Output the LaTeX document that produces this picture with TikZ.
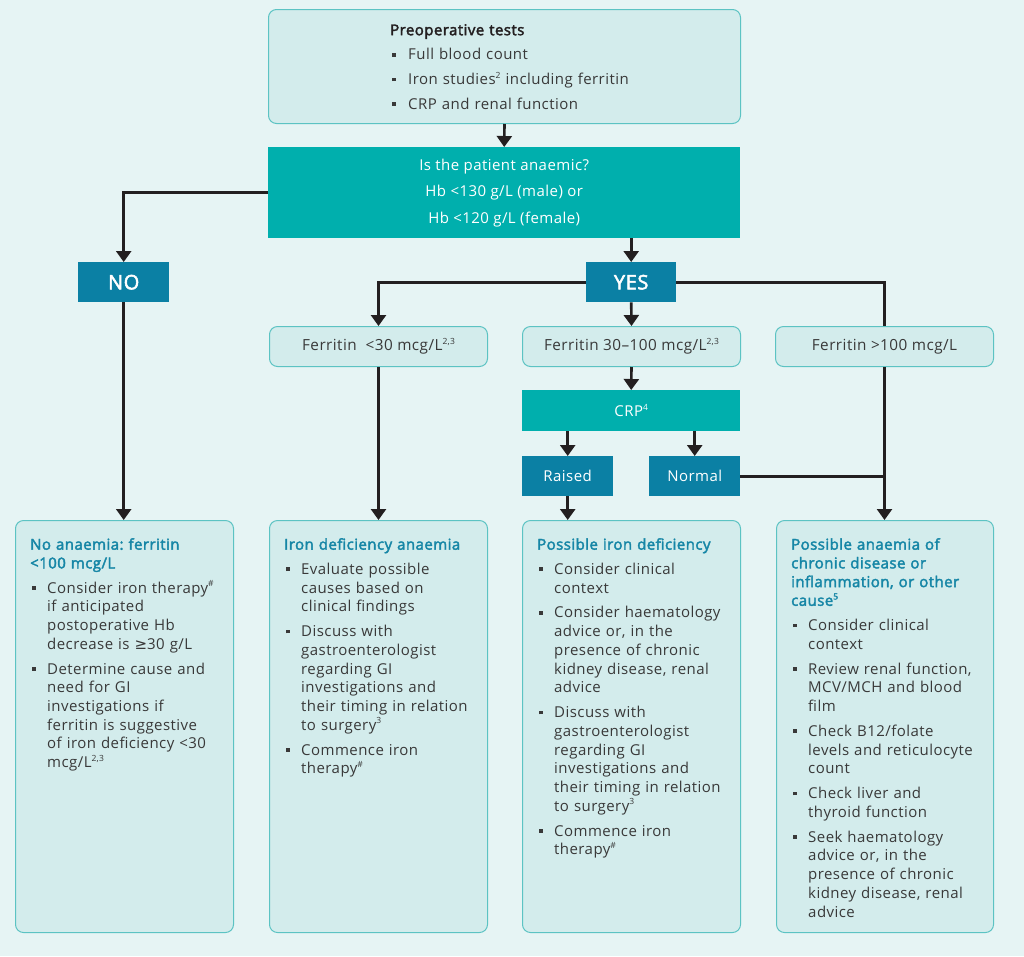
\documentclass[tikz,border=0pt]{standalone}
\usepackage{fontspec}
\setmainfont{Open Sans}[LetterSpace=3, AutoFakeBold=2.5]
\newfontfamily\symf{DejaVu Sans}
\usetikzlibrary{arrows.meta}
\definecolor{bgc}{HTML}{E6F4F4}
\definecolor{lightfill}{HTML}{D3ECEC}
\definecolor{lightedge}{HTML}{5CC3C3}
\definecolor{tealc}{HTML}{00AFAD}
\definecolor{bluec}{HTML}{0B80A4}
\definecolor{headc}{HTML}{1686A6}
\definecolor{txtc}{HTML}{393939}
\definecolor{arrc}{HTML}{231F20}
\frenchspacing
\newcommand\sps[1]{\raisebox{0.42em}{\fontsize{8.5}{8.5}\selectfont #1}}
\newcommand\bul{\hspace*{2pt}\rule[0.22em]{3.6pt}{3.6pt}}
\newcommand\hd[1]{{\bfseries\color{headc}#1\par}\vspace{6pt}}
\newcommand\itm[1]{{\let\\\newline\hangindent=17pt\hangafter=1\noindent\makebox[17pt][l]{\bul}#1\par}\vspace{6.2pt}}
\newcommand\titm[1]{{\hangindent=18pt\hangafter=1\noindent\makebox[18pt][l]{\bul}#1\par}}
\tikzset{
  lbox/.style={draw=lightedge, fill=lightfill, rounded corners=8pt, line width=1pt, inner sep=0pt, anchor=north west},
  tbox/.style={fill=tealc, inner sep=0pt, anchor=north west, text=white, font=\fontsize{15}{25}\selectfont},
  bbox/.style={fill=bluec, inner sep=0pt, anchor=north west, text=white, font=\fontsize{15}{18}\selectfont},
  yn/.style={bbox, font=\fontsize{20}{22}\selectfont\bfseries},
  ftxt/.style={text=txtc, font=\fontsize{15.3}{18}\selectfont},
  btxt/.style={anchor=north west, inner sep=0pt, text width=215pt, align=left, text=txtc, font=\fontsize{15}{18.7}\selectfont},
  conn/.style={draw=arrc, line width=2.6pt},
  arr/.style={conn, -{Triangle[width=15pt,length=11pt]}},
}
\begin{document}
\begin{tikzpicture}[x=1pt,y=-1pt]
\fill[bgc] (0,0) rectangle (1024,956);
\useasboundingbox (0,0) rectangle (1024,956);
% boxes
\node[lbox, minimum width=472pt, minimum height=114pt] (top) at (268,9) {};
\node[tbox, minimum width=472pt, minimum height=91pt, align=center] (anaemic) at (268,147) {Is the patient anaemic?\\[1.5pt]Hb <130 g/L (male) or\\[1.5pt]Hb <120 g/L (female)};
\node[yn, minimum width=91pt, minimum height=40pt] (no) at (78,262) {NO};
\node[yn, minimum width=90pt, minimum height=40pt] (yes) at (586,262) {YES};
\node[lbox, ftxt, minimum width=218pt, minimum height=40pt] (f1) at (269,326) {Ferritin\ \ <30 mcg/L\sps{2,3}};
\node[lbox, ftxt, minimum width=218pt, minimum height=40pt] (f2) at (522,326) {Ferritin 30--100 mcg/L\sps{2,3}};
\node[lbox, ftxt, minimum width=218pt, minimum height=40pt] (f3) at (775,326) {Ferritin >100 mcg/L};
\node[tbox, minimum width=218pt, minimum height=41pt] (crp) at (522,390) {CRP\sps{4}};
\node[bbox, minimum width=91pt, minimum height=40pt] (raised) at (522,456) {Raised};
\node[bbox, minimum width=91pt, minimum height=40pt] (normal) at (649,456) {Normal};
\node[lbox, minimum width=218pt, minimum height=412pt] (b1) at (15,520) {};
\node[lbox, minimum width=218pt, minimum height=412pt] (b2) at (269,520) {};
\node[lbox, minimum width=218pt, minimum height=412pt] (b3) at (522,520) {};
\node[lbox, minimum width=217pt, minimum height=412pt] (b4) at (776,520) {};
% top text
\node[anchor=north west, inner sep=0pt, text width=320pt, align=left, text=txtc, font=\fontsize{15}{24.6}\selectfont] (toptext) at (390,24) {{\bfseries\color{arrc}Preoperative tests\par}\titm{Full blood count}\titm{Iron studies\sps{2} including ferritin}\titm{CRP and renal function}};
% bottom texts
\node[btxt] (t1) at (30,538) {\hd{No anaemia: ferritin\\<100 mcg/L}\itm{Consider iron therapy\sps{\#}\\if anticipated\\postoperative Hb\\decrease is {\symf ≥}30 g/L}\itm{Determine cause and\\need for GI\\investigations if\\ferritin is suggestive\\of iron deficiency <30\\mcg/L\sps{2,3}}};
\node[btxt] (t2) at (284,538) {\hd{Iron deficiency anaemia}\itm{Evaluate possible\\causes based on\\clinical findings}\itm{Discuss with\\gastroenterologist\\regarding GI\\investigations and\\their timing in relation\\to surgery\sps{3}}\itm{Commence iron\\therapy\sps{\#}}};
\node[btxt] (t3) at (537,538) {\hd{Possible iron deficiency}\itm{Consider clinical\\context}\itm{Consider haematology\\advice or, in the\\presence of chronic\\kidney disease, renal\\advice}\itm{Discuss with\\gastroenterologist\\regarding GI\\investigations and\\their timing in relation\\to surgery\sps{3}}\itm{Commence iron\\therapy\sps{\#}}};
\node[btxt] (t4) at (791,538) {\hd{Possible anaemia of\\chronic disease or\\inflammation, or other\\cause\sps{5}}\itm{Consider clinical\\context}\itm{Review renal function,\\MCV/MCH and blood\\film}\itm{Check B12/folate\\levels and reticulocyte\\count}\itm{Check liver and\\thyroid function}\itm{Seek haematology\\advice or, in the\\presence of chronic\\kidney disease, renal\\advice}};
% connectors
\draw[arr] (top.south) -- (anaemic.north);
\draw[arr] (anaemic.west) -| (no.north);
\draw[arr] (yes.north |- anaemic.south) -- (yes.north);
\draw[arr] (yes.west) -| (f1.north);
\draw[arr] (yes.south) -- (f2.north);
\draw[conn] (yes.east) -| (f3.north);
\draw[arr] (f3.south) -- (f3.south |- b4.north);
\draw[conn] (normal.east) -- (normal.east -| f3.south);
\draw[arr] (f2.south) -- (crp.north);
\draw[arr] (raised.north |- crp.south) -- (raised.north);
\draw[arr] (normal.north |- crp.south) -- (normal.north);
\draw[arr] (raised.south) -- (raised.south |- b3.north);
\draw[arr] (no.south) -- (no.south |- b1.north);
\draw[arr] (f1.south) -- (f1.south |- b2.north);
\end{tikzpicture}
\end{document}
